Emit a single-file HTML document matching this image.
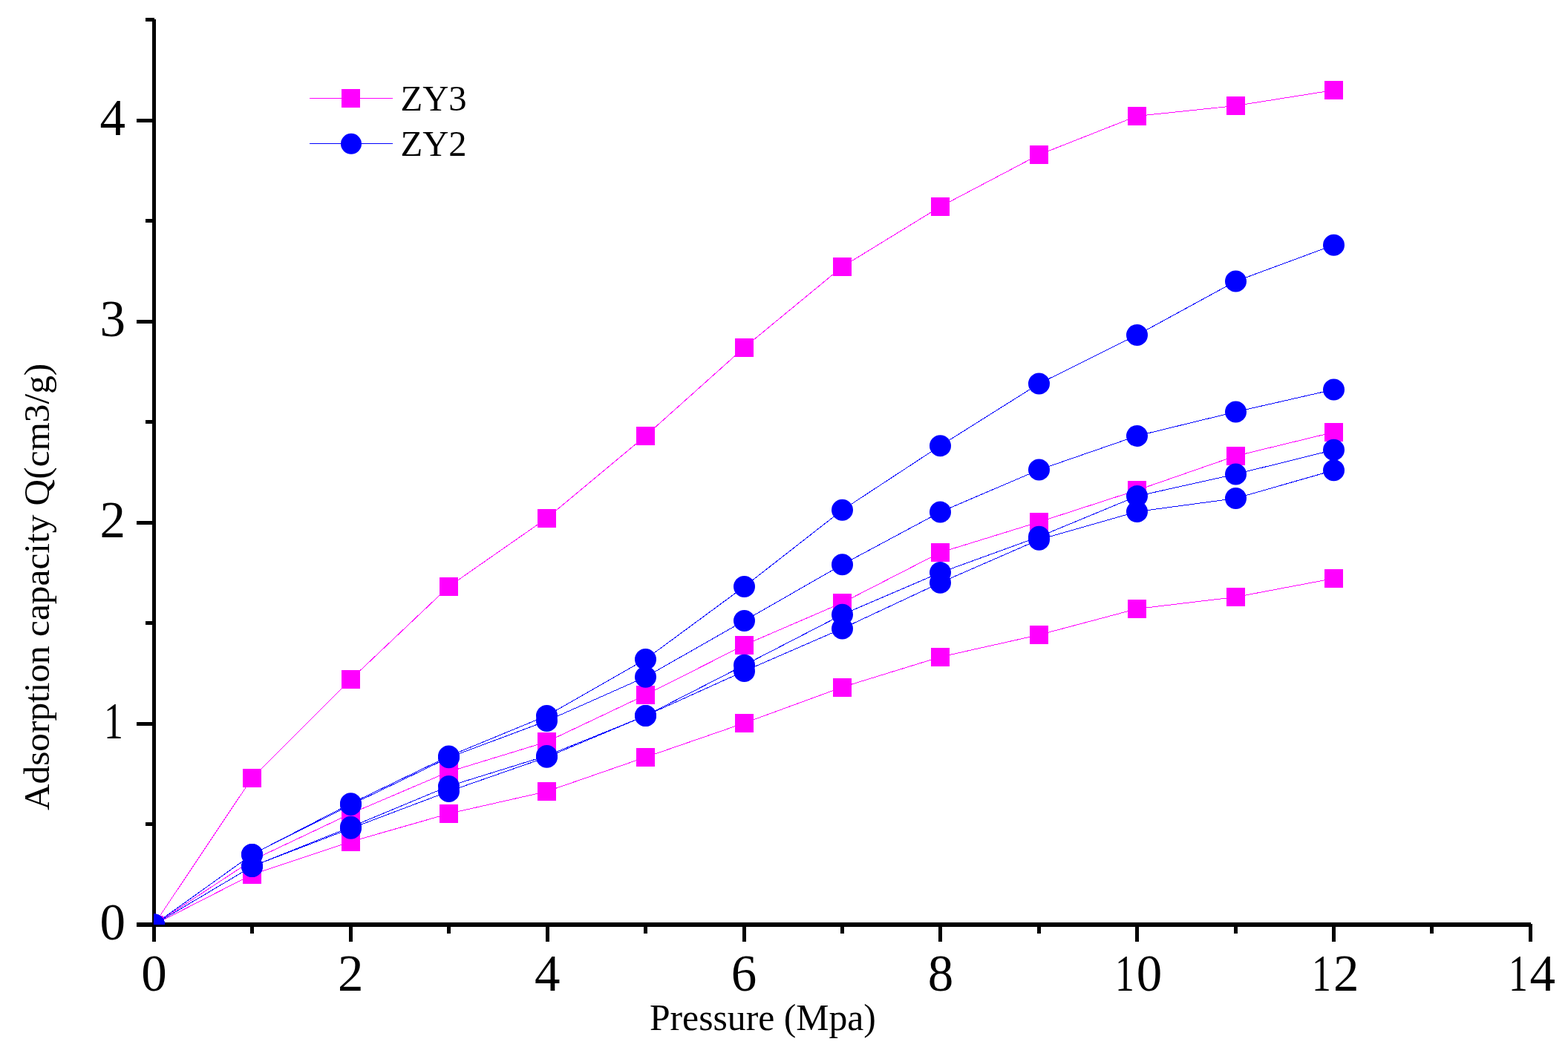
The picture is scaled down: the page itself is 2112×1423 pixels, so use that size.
<!DOCTYPE html>
<html><head><meta charset="utf-8"><title>Adsorption capacity</title>
<style>
html,body{margin:0;padding:0;background:#fff;}
body{width:2112px;height:1423px;overflow:hidden;}
svg{display:block;}
text{font-family:"Liberation Serif","Times New Roman",serif;fill:#000;}
</style></head><body>
<svg width="2112" height="1423" viewBox="0 0 2112 1423">
<rect x="0" y="0" width="2112" height="1423" fill="#fff"/>
<defs><clipPath id="plot"><rect x="207.5" y="0" width="1900" height="1246"/></clipPath></defs>
<rect x="205" y="26" width="5" height="1243" fill="#000"/>
<rect x="205" y="1243" width="1857" height="6" fill="#000"/>
<rect x="196" y="1108" width="10" height="5" fill="#000"/>
<rect x="184" y="973" width="22" height="5" fill="#000"/>
<rect x="196" y="837" width="10" height="5" fill="#000"/>
<rect x="184" y="702" width="22" height="5" fill="#000"/>
<rect x="196" y="566" width="10" height="5" fill="#000"/>
<rect x="184" y="431" width="22" height="5" fill="#000"/>
<rect x="196" y="295" width="10" height="5" fill="#000"/>
<rect x="184" y="160" width="22" height="5" fill="#000"/>
<rect x="196" y="24" width="12" height="5" fill="#000"/>
<rect x="184" y="1243" width="22" height="6" fill="#000"/>
<rect x="337" y="1245" width="5" height="13" fill="#000"/>
<rect x="470" y="1245" width="5" height="24" fill="#000"/>
<rect x="602" y="1245" width="5" height="13" fill="#000"/>
<rect x="735" y="1245" width="5" height="24" fill="#000"/>
<rect x="867" y="1245" width="5" height="13" fill="#000"/>
<rect x="1000" y="1245" width="5" height="24" fill="#000"/>
<rect x="1132" y="1245" width="5" height="13" fill="#000"/>
<rect x="1264" y="1245" width="5" height="24" fill="#000"/>
<rect x="1397" y="1245" width="5" height="13" fill="#000"/>
<rect x="1529" y="1245" width="5" height="24" fill="#000"/>
<rect x="1662" y="1245" width="5" height="13" fill="#000"/>
<rect x="1794" y="1245" width="5" height="24" fill="#000"/>
<rect x="1926" y="1245" width="5" height="13" fill="#000"/>
<rect x="2059" y="1245" width="5" height="24" fill="#000"/>
<text x="169" y="1265.8" font-size="69" text-anchor="end">0</text>
<text transform="translate(152.9,994.9) scale(0.75,1)" font-size="69" text-anchor="middle">1</text>
<text x="169" y="724.0" font-size="69" text-anchor="end">2</text>
<text x="169" y="453.2" font-size="69" text-anchor="end">3</text>
<text x="169" y="182.3" font-size="69" text-anchor="end">4</text>
<text x="207.5" y="1334.5" font-size="69" text-anchor="middle">0</text>
<text x="472.3" y="1334.5" font-size="69" text-anchor="middle">2</text>
<text x="737.2" y="1334.5" font-size="69" text-anchor="middle">4</text>
<text x="1002.0" y="1334.5" font-size="69" text-anchor="middle">6</text>
<text x="1266.9" y="1334.5" font-size="69" text-anchor="middle">8</text>
<text transform="translate(1514.9,1334.5) scale(0.75,1)" font-size="69" text-anchor="middle">1</text>
<text x="1548.0" y="1334.5" font-size="69" text-anchor="middle">0</text>
<text transform="translate(1780.0,1334.5) scale(0.75,1)" font-size="69" text-anchor="middle">1</text>
<text x="1813.2" y="1334.5" font-size="69" text-anchor="middle">2</text>
<text transform="translate(2044.9,1334.5) scale(0.75,1)" font-size="69" text-anchor="middle">1</text>
<text x="2077.7" y="1334.5" font-size="69" text-anchor="middle">4</text>
<text x="1027.4" y="1388" font-size="49.7" text-anchor="middle">Pressure (Mpa)</text>
<text transform="translate(66,790.9) rotate(-90)" x="0" y="0" font-size="49.3" text-anchor="middle">Adsorption capacity Q(cm3/g)</text>
<g clip-path="url(#plot)">
<polyline points="207.5,1246.0 339.5,1048.5 472.5,915.5 604.5,790.4 736.5,698.3 869.5,587.4 1002.5,468.3 1134.5,359.5 1266.5,278.5 1399.5,208.5 1531.5,156.4 1664.5,142.5 1796.5,121.5" fill="none" stroke="#ff00ff" stroke-width="1" shape-rendering="crispEdges"/>
<rect x="195" y="1234" width="25" height="25" fill="#ff00ff"/>
<rect x="327" y="1036" width="25" height="25" fill="#ff00ff"/>
<rect x="460" y="903" width="25" height="25" fill="#ff00ff"/>
<rect x="592" y="778" width="25" height="25" fill="#ff00ff"/>
<rect x="724" y="686" width="25" height="25" fill="#ff00ff"/>
<rect x="857" y="575" width="25" height="25" fill="#ff00ff"/>
<rect x="990" y="456" width="25" height="25" fill="#ff00ff"/>
<rect x="1122" y="347" width="25" height="25" fill="#ff00ff"/>
<rect x="1254" y="266" width="25" height="25" fill="#ff00ff"/>
<rect x="1387" y="196" width="25" height="25" fill="#ff00ff"/>
<rect x="1519" y="144" width="25" height="25" fill="#ff00ff"/>
<rect x="1652" y="130" width="25" height="25" fill="#ff00ff"/>
<rect x="1784" y="109" width="25" height="25" fill="#ff00ff"/>
<polyline points="207.5,1246.0 339.5,1159.3 472.5,1096.3 604.5,1040.0 736.5,999.6 869.5,936.5 1002.5,869.2 1134.5,812.3 1266.5,744.5 1399.5,703.4 1531.5,660.6 1664.5,614.4 1796.5,582.4" fill="none" stroke="#ff00ff" stroke-width="1" shape-rendering="crispEdges"/>
<rect x="195" y="1234" width="25" height="25" fill="#ff00ff"/>
<rect x="327" y="1147" width="25" height="25" fill="#ff00ff"/>
<rect x="460" y="1084" width="25" height="25" fill="#ff00ff"/>
<rect x="592" y="1028" width="25" height="25" fill="#ff00ff"/>
<rect x="724" y="987" width="25" height="25" fill="#ff00ff"/>
<rect x="857" y="924" width="25" height="25" fill="#ff00ff"/>
<rect x="990" y="857" width="25" height="25" fill="#ff00ff"/>
<rect x="1122" y="800" width="25" height="25" fill="#ff00ff"/>
<rect x="1254" y="732" width="25" height="25" fill="#ff00ff"/>
<rect x="1387" y="691" width="25" height="25" fill="#ff00ff"/>
<rect x="1519" y="648" width="25" height="25" fill="#ff00ff"/>
<rect x="1652" y="602" width="25" height="25" fill="#ff00ff"/>
<rect x="1784" y="570" width="25" height="25" fill="#ff00ff"/>
<polyline points="207.5,1246.0 339.5,1178.5 472.5,1134.2 604.5,1096.4 736.5,1066.5 869.5,1020.4 1002.5,974.4 1134.5,926.0 1266.5,885.3 1399.5,855.5 1531.5,820.4 1664.5,804.5 1796.5,779.5" fill="none" stroke="#ff00ff" stroke-width="1" shape-rendering="crispEdges"/>
<rect x="195" y="1234" width="25" height="25" fill="#ff00ff"/>
<rect x="327" y="1166" width="25" height="25" fill="#ff00ff"/>
<rect x="460" y="1122" width="25" height="25" fill="#ff00ff"/>
<rect x="592" y="1084" width="25" height="25" fill="#ff00ff"/>
<rect x="724" y="1054" width="25" height="25" fill="#ff00ff"/>
<rect x="857" y="1008" width="25" height="25" fill="#ff00ff"/>
<rect x="990" y="962" width="25" height="25" fill="#ff00ff"/>
<rect x="1122" y="914" width="25" height="25" fill="#ff00ff"/>
<rect x="1254" y="873" width="25" height="25" fill="#ff00ff"/>
<rect x="1387" y="843" width="25" height="25" fill="#ff00ff"/>
<rect x="1519" y="808" width="25" height="25" fill="#ff00ff"/>
<rect x="1652" y="792" width="25" height="25" fill="#ff00ff"/>
<rect x="1784" y="767" width="25" height="25" fill="#ff00ff"/>
<polyline points="207.5,1246.0 339.5,1151.5 472.5,1082.8 604.5,1019.0 736.5,964.5 869.5,888.4 1002.5,790.5 1134.5,687.3 1266.5,600.7 1399.5,517.0 1531.5,451.5 1664.5,379.0 1796.5,330.2" fill="none" stroke="#0000ff" stroke-width="1" shape-rendering="crispEdges"/>
<circle cx="207.5" cy="1246.0" r="14.5" fill="#0000ff"/>
<circle cx="339.5" cy="1151.5" r="14.5" fill="#0000ff"/>
<circle cx="472.5" cy="1082.8" r="14.5" fill="#0000ff"/>
<circle cx="604.5" cy="1019.0" r="14.5" fill="#0000ff"/>
<circle cx="736.5" cy="964.5" r="14.5" fill="#0000ff"/>
<circle cx="869.5" cy="888.4" r="14.5" fill="#0000ff"/>
<circle cx="1002.5" cy="790.5" r="14.5" fill="#0000ff"/>
<circle cx="1134.5" cy="687.3" r="14.5" fill="#0000ff"/>
<circle cx="1266.5" cy="600.7" r="14.5" fill="#0000ff"/>
<circle cx="1399.5" cy="517.0" r="14.5" fill="#0000ff"/>
<circle cx="1531.5" cy="451.5" r="14.5" fill="#0000ff"/>
<circle cx="1664.5" cy="379.0" r="14.5" fill="#0000ff"/>
<circle cx="1796.5" cy="330.2" r="14.5" fill="#0000ff"/>
<polyline points="207.5,1246.0 339.5,1151.5 472.5,1084.6 604.5,1020.8 736.5,971.4 869.5,912.3 1002.5,836.5 1134.5,760.8 1266.5,690.0 1399.5,633.1 1531.5,587.4 1664.5,555.0 1796.5,524.9" fill="none" stroke="#0000ff" stroke-width="1" shape-rendering="crispEdges"/>
<circle cx="207.5" cy="1246.0" r="14.5" fill="#0000ff"/>
<circle cx="339.5" cy="1151.5" r="14.5" fill="#0000ff"/>
<circle cx="472.5" cy="1084.6" r="14.5" fill="#0000ff"/>
<circle cx="604.5" cy="1020.8" r="14.5" fill="#0000ff"/>
<circle cx="736.5" cy="971.4" r="14.5" fill="#0000ff"/>
<circle cx="869.5" cy="912.3" r="14.5" fill="#0000ff"/>
<circle cx="1002.5" cy="836.5" r="14.5" fill="#0000ff"/>
<circle cx="1134.5" cy="760.8" r="14.5" fill="#0000ff"/>
<circle cx="1266.5" cy="690.0" r="14.5" fill="#0000ff"/>
<circle cx="1399.5" cy="633.1" r="14.5" fill="#0000ff"/>
<circle cx="1531.5" cy="587.4" r="14.5" fill="#0000ff"/>
<circle cx="1664.5" cy="555.0" r="14.5" fill="#0000ff"/>
<circle cx="1796.5" cy="524.9" r="14.5" fill="#0000ff"/>
<polyline points="207.5,1246.0 339.5,1167.5 472.5,1114.3 604.5,1059.4 736.5,1018.4 869.5,964.5 1002.5,896.3 1134.5,828.2 1266.5,771.6 1399.5,723.3 1531.5,668.6 1664.5,638.9 1796.5,606.3" fill="none" stroke="#0000ff" stroke-width="1" shape-rendering="crispEdges"/>
<circle cx="207.5" cy="1246.0" r="14.5" fill="#0000ff"/>
<circle cx="339.5" cy="1167.5" r="14.5" fill="#0000ff"/>
<circle cx="472.5" cy="1114.3" r="14.5" fill="#0000ff"/>
<circle cx="604.5" cy="1059.4" r="14.5" fill="#0000ff"/>
<circle cx="736.5" cy="1018.4" r="14.5" fill="#0000ff"/>
<circle cx="869.5" cy="964.5" r="14.5" fill="#0000ff"/>
<circle cx="1002.5" cy="896.3" r="14.5" fill="#0000ff"/>
<circle cx="1134.5" cy="828.2" r="14.5" fill="#0000ff"/>
<circle cx="1266.5" cy="771.6" r="14.5" fill="#0000ff"/>
<circle cx="1399.5" cy="723.3" r="14.5" fill="#0000ff"/>
<circle cx="1531.5" cy="668.6" r="14.5" fill="#0000ff"/>
<circle cx="1664.5" cy="638.9" r="14.5" fill="#0000ff"/>
<circle cx="1796.5" cy="606.3" r="14.5" fill="#0000ff"/>
<polyline points="207.5,1246.0 339.5,1167.5 472.5,1116.3 604.5,1066.4 736.5,1020.3 869.5,964.5 1002.5,904.4 1134.5,847.0 1266.5,785.2 1399.5,727.2 1531.5,689.5 1664.5,671.5 1796.5,633.7" fill="none" stroke="#0000ff" stroke-width="1" shape-rendering="crispEdges"/>
<circle cx="207.5" cy="1246.0" r="14.5" fill="#0000ff"/>
<circle cx="339.5" cy="1167.5" r="14.5" fill="#0000ff"/>
<circle cx="472.5" cy="1116.3" r="14.5" fill="#0000ff"/>
<circle cx="604.5" cy="1066.4" r="14.5" fill="#0000ff"/>
<circle cx="736.5" cy="1020.3" r="14.5" fill="#0000ff"/>
<circle cx="869.5" cy="964.5" r="14.5" fill="#0000ff"/>
<circle cx="1002.5" cy="904.4" r="14.5" fill="#0000ff"/>
<circle cx="1134.5" cy="847.0" r="14.5" fill="#0000ff"/>
<circle cx="1266.5" cy="785.2" r="14.5" fill="#0000ff"/>
<circle cx="1399.5" cy="727.2" r="14.5" fill="#0000ff"/>
<circle cx="1531.5" cy="689.5" r="14.5" fill="#0000ff"/>
<circle cx="1664.5" cy="671.5" r="14.5" fill="#0000ff"/>
<circle cx="1796.5" cy="633.7" r="14.5" fill="#0000ff"/>
</g>
<rect x="417" y="132" width="112" height="1" fill="#ff00ff"/>
<rect x="460" y="120" width="25" height="25" fill="#ff00ff"/>
<text x="539.5" y="148.8" font-size="48.6">ZY3</text>
<rect x="417" y="193" width="112" height="1" fill="#0000ff"/>
<circle cx="473" cy="193.8" r="14" fill="#0000ff"/>
<text x="539.5" y="209.8" font-size="48.6">ZY2</text>
</svg>
</body></html>
